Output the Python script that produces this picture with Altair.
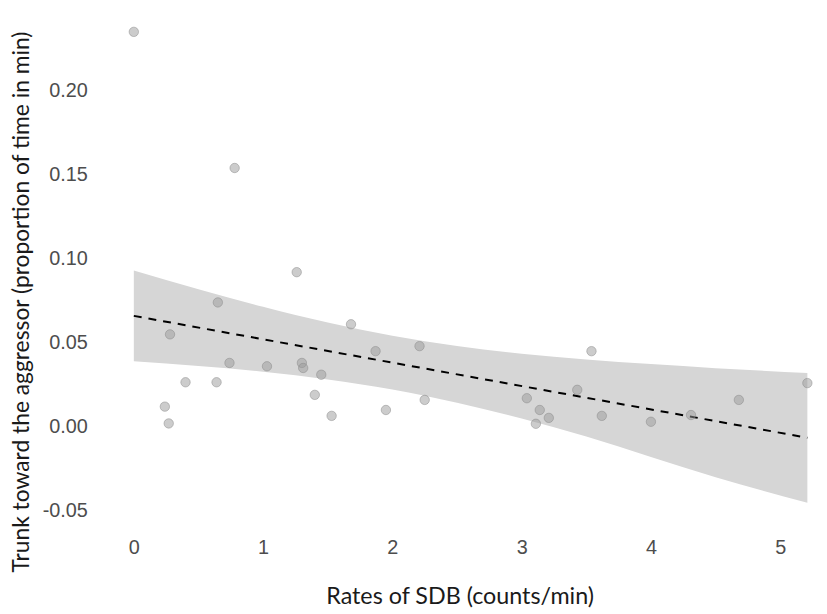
import altair as alt
import pandas as pd

# Scatter points (Rates of SDB, trunk toward aggressor)
sdb_rate = [0.00, 0.78, 1.26, 0.65, 0.28, 1.68, 0.74, 0.40, 0.64, 0.24, 0.27,
            1.03, 1.30, 1.31, 1.45, 1.40, 1.53, 1.87, 1.95, 2.21, 2.25, 3.54,
            5.21, 3.43, 3.04, 3.14, 3.21, 3.11, 3.62, 4.00, 4.31, 4.68]
trunk = [0.235, 0.154, 0.092, 0.074, 0.055, 0.061, 0.038, 0.0265, 0.0265, 0.012, 0.002,
         0.036, 0.038, 0.035, 0.031, 0.019, 0.0065, 0.045, 0.010, 0.048, 0.016, 0.045,
         0.026, 0.022, 0.017, 0.010, 0.0053, 0.0018, 0.0065, 0.003, 0.007, 0.016]

# Fitted line
fit_x = [0.0, 5.21]
fit_y = [0.066, -0.0065]

# Confidence band
band_x = [0.0, 0.5, 1.0, 1.5, 2.0, 2.5, 3.0, 3.5, 4.0, 4.5, 5.21]
band_lo = [0.039, 0.0362, 0.0328, 0.0282, 0.0222, 0.0143, 0.0049, -0.0058, -0.018, -0.030, -0.0452]
band_hi = [0.093, 0.0818, 0.0714, 0.0620, 0.0542, 0.0481, 0.0435, 0.0401, 0.0373, 0.0349, 0.0320]

x_ticks = [0, 1, 2, 3, 4, 5]
y_ticks = [-0.05, 0.0, 0.05, 0.10, 0.15, 0.20]

pts = pd.DataFrame({"x": sdb_rate, "y": trunk})
fit = pd.DataFrame({"x": fit_x, "y": fit_y})
band = pd.DataFrame({"x": band_x, "lo": band_lo, "hi": band_hi})

W, H = 725, 517
xscale = alt.Scale(domain=[-0.26, 5.30], nice=False, zero=False)
yscale = alt.Scale(domain=[-0.06, 0.245], nice=False, zero=False)

xaxis = alt.Axis(values=x_ticks, format="d", grid=False, domain=False, ticks=False,
                 labelFont="Liberation Sans", labelFontSize=20, labelColor="#4d4d4d",
                 labelPadding=10, title="Rates of SDB (counts/min)",
                 titleFont="Lato", titleFontSize=23.5, titleFontWeight="normal",
                 titleColor="#1a1a1a", titleY=70, titleBaseline="middle")
yaxis = alt.Axis(values=y_ticks, format=".2f", grid=False, domain=False, ticks=False,
                 labelExpr="replace(format(datum.value, '.2f'), '\u2212', '-')",
                 labelFont="Liberation Sans", labelFontSize=20, labelColor="#4d4d4d",
                 labelPadding=13,
                 title="Trunk toward the aggressor (proportion of time in min)",
                 titleFont="Lato", titleFontSize=23, titleFontWeight="normal",
                 titleColor="#1a1a1a", titleX=-79, titleY=289,
                 titleBaseline="middle", titleAlign="center", titleAngle=270)

band_layer = alt.Chart(band).mark_area(color="#d6d6d6", opacity=1, interpolate="monotone").encode(
    x=alt.X("x:Q", scale=xscale, axis=xaxis),
    y=alt.Y("lo:Q", scale=yscale, axis=yaxis),
    y2="hi:Q",
)

line_layer = alt.Chart(fit).mark_line(color="black", strokeWidth=2, strokeDash=[8, 7]).encode(
    x=alt.X("x:Q", scale=xscale),
    y=alt.Y("y:Q", scale=yscale),
)

point_layer = alt.Chart(pts).mark_point(
    filled=True, shape="circle", size=90, fill="#9a9a9a", fillOpacity=0.5,
    stroke="#8a8a8a", strokeOpacity=0.5, strokeWidth=1
).encode(
    x=alt.X("x:Q", scale=xscale),
    y=alt.Y("y:Q", scale=yscale),
)

chart = alt.layer(band_layer, line_layer, point_layer).properties(
    width=W, height=H,
    autosize=alt.AutoSizeParams(type="none"),
    padding={"left": 93, "top": 4.5, "right": 0, "bottom": 85},
    background="white",
).configure_view(stroke=None)

chart.save("out.html", embed_options={"renderer": "svg", "actions": False})
